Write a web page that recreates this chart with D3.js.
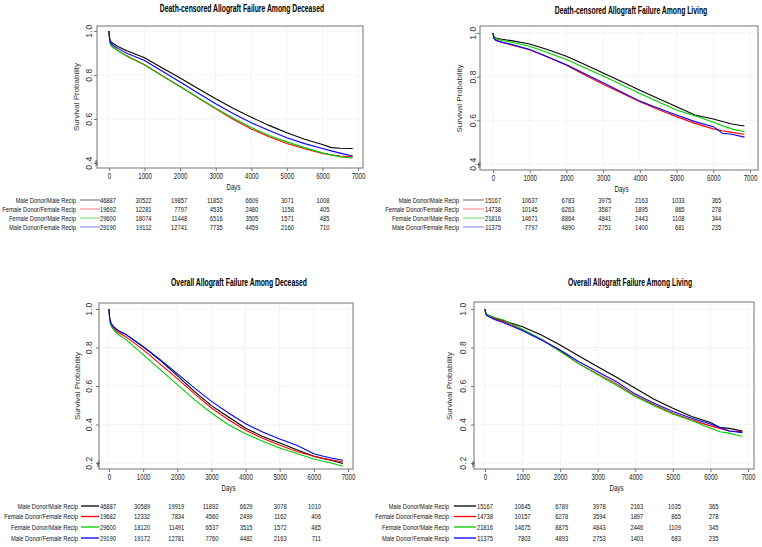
<!DOCTYPE html>
<html><head><meta charset="utf-8">
<script src="https://cdn.jsdelivr.net/npm/d3@7"></script>
<style>
body{margin:0;background:#fff;}
svg text{font-family:"Liberation Sans",Arial,sans-serif;}
</style></head><body>
<svg id="c" width="762" height="547"></svg>
<script>
// ---------- DATA ----------
const groups = ["Male Donor/Male Recip","Female Donor/Female Recip","Female Donor/Male Recip","Male Donor/Female Recip"];
const days = [0,20,60,120,250,500,1000,1500,2000,2500,3000,3500,4000,4500,5000,5500,6000,6250,6500,6850];
const xTicks = [0,1000,2000,3000,4000,5000,6000,7000];
const riskTimes = [0,1000,2000,3000,4000,5000,6000];
const titles = ["Death-censored Allograft Failure Among Deceased","Death-censored Allograft Failure Among Living","Overall Allograft Failure Among Deceased","Overall Allograft Failure Among Living"];

// Death-censored, deceased donors
const dcDecMM = [1.0,0.965,0.950,0.943,0.930,0.910,0.878,0.832,0.786,0.739,0.692,0.648,0.608,0.571,0.537,0.508,0.484,0.470,0.467,0.466];
const dcDecFF = [1.0,0.952,0.935,0.927,0.912,0.887,0.847,0.797,0.748,0.697,0.646,0.598,0.555,0.519,0.489,0.465,0.443,0.437,0.432,0.428];
const dcDecFM = [1.0,0.950,0.933,0.925,0.910,0.885,0.845,0.796,0.747,0.698,0.649,0.603,0.561,0.525,0.496,0.470,0.446,0.437,0.428,0.423];
const dcDecMF = [1.0,0.958,0.942,0.934,0.921,0.899,0.866,0.817,0.768,0.718,0.669,0.624,0.583,0.548,0.515,0.488,0.466,0.455,0.445,0.432];
// Death-censored, living donors
const dcLivMM = [1.0,0.985,0.978,0.975,0.971,0.965,0.950,0.923,0.894,0.856,0.817,0.778,0.738,0.700,0.662,0.624,0.606,0.595,0.583,0.574];
const dcLivFF = [1.0,0.978,0.970,0.965,0.958,0.945,0.923,0.889,0.852,0.808,0.765,0.725,0.685,0.650,0.617,0.586,0.561,0.552,0.545,0.536];
const dcLivFM = [1.0,0.982,0.975,0.971,0.966,0.958,0.939,0.910,0.879,0.841,0.803,0.763,0.723,0.685,0.647,0.621,0.591,0.575,0.561,0.548];
const dcLivMF = [1.0,0.977,0.968,0.963,0.957,0.948,0.924,0.890,0.855,0.813,0.772,0.730,0.688,0.655,0.624,0.594,0.571,0.541,0.536,0.523];
// Overall, deceased donors
const ovDecMM = [1.0,0.950,0.925,0.910,0.890,0.867,0.803,0.733,0.654,0.572,0.498,0.439,0.381,0.338,0.304,0.269,0.235,0.224,0.214,0.197];
const ovDecFF = [1.0,0.945,0.918,0.902,0.880,0.855,0.789,0.714,0.638,0.560,0.486,0.425,0.370,0.328,0.292,0.260,0.235,0.225,0.217,0.205];
const ovDecFM = [1.0,0.940,0.912,0.895,0.870,0.841,0.763,0.685,0.607,0.529,0.460,0.399,0.352,0.313,0.278,0.249,0.221,0.210,0.200,0.183];
const ovDecMF = [1.0,0.950,0.925,0.910,0.890,0.867,0.806,0.737,0.664,0.590,0.520,0.460,0.404,0.361,0.325,0.292,0.248,0.236,0.226,0.214];
// Overall, living donors
const ovLivMM = [1.0,0.978,0.970,0.965,0.955,0.939,0.908,0.865,0.813,0.756,0.700,0.645,0.588,0.531,0.484,0.441,0.410,0.384,0.380,0.366];
const ovLivFF = [1.0,0.976,0.967,0.961,0.950,0.934,0.891,0.843,0.784,0.715,0.663,0.611,0.549,0.502,0.459,0.424,0.393,0.380,0.366,0.363];
const ovLivFM = [1.0,0.978,0.970,0.965,0.956,0.943,0.895,0.843,0.779,0.715,0.658,0.604,0.545,0.497,0.455,0.421,0.381,0.362,0.355,0.338];
const ovLivMF = [1.0,0.975,0.965,0.958,0.946,0.929,0.887,0.839,0.787,0.726,0.674,0.622,0.558,0.510,0.467,0.432,0.403,0.385,0.366,0.358];

// Numbers at risk
const riskDcDecMM = [46887,30522,19857,11852,6609,3071,1008];
const riskDcDecFF = [19692,12281,7797,4535,2480,1158,405];
const riskDcDecFM = [29600,18074,11448,6516,3505,1571,485];
const riskDcDecMF = [29190,19112,12741,7735,4459,2160,710];
const riskDcLivMM = [15167,10637,6783,3975,2163,1033,365];
const riskDcLivFF = [14738,10145,6263,3587,1895,865,278];
const riskDcLivFM = [21816,14671,8864,4841,2443,1108,344];
const riskDcLivMF = [11375,7797,4890,2751,1400,681,235];
const riskOvDecMM = [46887,30589,19919,11892,6629,3078,1010];
const riskOvDecFF = [19682,12332,7834,4560,2499,1162,406];
const riskOvDecFM = [29600,18120,11491,6537,3515,1572,485];
const riskOvDecMF = [29190,19172,12781,7760,4482,2163,711];
const riskOvLivMM = [15167,10645,6789,3978,2163,1035,365];
const riskOvLivFF = [14738,10157,6278,3594,1897,865,278];
const riskOvLivFM = [21816,14675,8875,4843,2446,1109,345];
const riskOvLivMF = [11375,7803,4893,2753,1403,683,235];

// ---------- LAYOUT ----------
const curveColors = ["#000000","#ff0000","#00cc00","#0000ff"];
const legendColorsTop = ["#8c8c8c","#ff9a9a","#90e090","#9a9aff"];
const legendColorsBot = ["#000000","#ff0000","#00cc00","#0000ff"];

const panels = [
 {title:titles[0], series:[dcDecMM,dcDecFF,dcDecFM,dcDecMF], risk:[riskDcDecMM,riskDcDecFF,riskDcDecFM,riskDcDecMF],
  box:[97,26,363,168], xr:[109,358], yd:[0.4,1.0], yr:[163,31], yTicks:[0.4,0.6,0.8,1.0], titleX:242, titleY:12,
  ytl:89, ylab:76, rows:[200,209,218,227], labEnd:76, line:[80,100], numOff:7, leg:legendColorsTop},
 {title:titles[1], series:[dcLivMM,dcLivFF,dcLivFM,dcLivMF], risk:[riskDcLivMM,riskDcLivFF,riskDcLivFM,riskDcLivMF],
  box:[480,26,758,170], xr:[493,750], yd:[0.4,1.0], yr:[164,33], yTicks:[0.4,0.6,0.8,1.0], titleX:631, titleY:14,
  ytl:473, ylab:459, rows:[200,209,218,227], labEnd:459, line:[463,484], numOff:8, leg:legendColorsTop},
 {title:titles[2], series:[ovDecMM,ovDecFF,ovDecFM,ovDecMF], risk:[riskOvDecMM,riskOvDecFF,riskOvDecFM,riskOvDecMF],
  box:[99,303,353,469], xr:[109,348], yd:[0.2,1.0], yr:[463,309], yTicks:[0.2,0.4,0.6,0.8,1.0], titleX:239, titleY:286,
  ytl:89, ylab:77, rows:[506,516.5,527,538], labEnd:78, line:[81,99], numOff:7, leg:legendColorsBot},
 {title:titles[3], series:[ovLivMM,ovLivFF,ovLivFM,ovLivMF], risk:[riskOvLivMM,riskOvLivFF,riskOvLivFM,riskOvLivMF],
  box:[474,302,754,469], xr:[485,748], yd:[0.2,1.0], yr:[463,309], yTicks:[0.2,0.4,0.6,0.8,1.0], titleX:630, titleY:286,
  ytl:463, ylab:449, rows:[506,516.5,527,538], labEnd:449, line:[454,476], numOff:8, leg:legendColorsBot}
];

// narrow the glyphs horizontally (no condensed font installed): scale about the anchor point
function condense(sel, f){
  sel.each(function(){
    const t = d3.select(this);
    const x = +t.attr("x") || 0, y = +t.attr("y") || 0;
    t.attr("x",0).attr("y",0).attr("transform",`translate(${x},${y}) scale(${f},1)`);
  });
}

const svg = d3.select("#c");

panels.forEach(p=>{
  const g = svg.append("g");
  const x = d3.scaleLinear().domain([0,7000]).range(p.xr);
  const y = d3.scaleLinear().domain(p.yd).range(p.yr);
  const [bx0,by0,bx1,by1] = p.box;

  // grid
  g.selectAll(".gx").data(xTicks).join("line")
    .attr("x1",d=>x(d)).attr("x2",d=>x(d)).attr("y1",by0).attr("y2",by1)
    .attr("stroke","#e4e4e4").attr("stroke-width",0.8).attr("stroke-dasharray","1,1");
  g.selectAll(".gy").data(p.yTicks).join("line")
    .attr("x1",bx0).attr("x2",bx1).attr("y1",d=>y(d)).attr("y2",d=>y(d))
    .attr("stroke","#e4e4e4").attr("stroke-width",0.8).attr("stroke-dasharray","1,1");

  // box
  g.append("rect").attr("x",bx0).attr("y",by0).attr("width",bx1-bx0).attr("height",by1-by0)
    .attr("fill","none").attr("stroke","#8a8a8a").attr("stroke-width",1.2);

  // x axis
  const xa = d3.axisBottom(x).tickValues(xTicks).tickSize(3).tickPadding(2).tickFormat(d3.format("d"));
  const xg = g.append("g").attr("transform",`translate(0,${by1})`).call(xa);
  xg.select(".domain").remove();
  xg.selectAll("line").attr("stroke","#777");
  xg.selectAll("text").attr("font-size",8.5).attr("fill","#222").attr("font-family",null);
  condense(xg.selectAll("text"),0.72);
  const dl = g.append("text").attr("x",(p.xr[0]+p.xr[1])/2).attr("y",by1+22).attr("text-anchor","middle")
    .attr("font-size",8.5).attr("fill","#222").text("Days");
  condense(dl,0.72);

  // y axis
  const ya = d3.axisLeft(y).tickValues(p.yTicks).tickSize(3).tickFormat(d3.format(".1f"));
  const yg = g.append("g").attr("transform",`translate(${bx0},0)`).call(ya);
  yg.select(".domain").remove();
  yg.selectAll("line").attr("stroke","#777");
  yg.selectAll("text").remove();
  g.selectAll(".ytl").data(p.yTicks).join("text")
    .attr("transform",d=>`translate(${p.ytl+3},${y(d)}) rotate(-90)`)
    .attr("text-anchor","middle").attr("font-size",8.5).attr("fill","#333")
    .attr("letter-spacing",0.6)
    .text(d=>d3.format(".1f")(d));
  g.append("text").attr("transform",`translate(${p.ylab+3},${(p.yr[0]+p.yr[1])/2}) rotate(-90)`)
    .attr("text-anchor","middle").attr("font-size",8).attr("fill","#333").text("Survival Probability");

  // axis break mark
  const yb = by1-4;
  g.append("path").attr("d",`M${bx0-2},${yb} l2.5,-1.5 l-2.5,-1 l2.5,-1.5 M${bx0-2},${yb+2} l2.5,-1.5 l-2.5,-1 l2.5,-1.5`)
    .attr("fill","none").attr("stroke","#555").attr("stroke-width",0.7);

  // curves
  const line = d3.line().x((d,i)=>x(days[i])).y(d=>y(d));
  p.series.forEach((s,k)=>{
    g.append("path").datum(s).attr("d",line).attr("fill","none")
      .attr("stroke",curveColors[k]).attr("stroke-width",1.1);
  });

  // title
  const tt = g.append("text").attr("x",p.titleX).attr("y",p.titleY).attr("text-anchor","middle")
    .attr("font-size",10.5).attr("font-weight","bold").attr("fill","#000").text(p.title);
  condense(tt,0.65);

  // risk table
  groups.forEach((name,k)=>{
    const ry = p.rows[k];
    const lt = g.append("text").attr("x",p.labEnd).attr("y",ry).attr("dy","0.35em").attr("text-anchor","end")
      .attr("font-size",7.8).attr("fill","#111").text(name);
    condense(lt,0.74);
    g.append("line").attr("x1",p.line[0]).attr("x2",p.line[1]).attr("y1",ry).attr("y2",ry)
      .attr("stroke",p.leg[k]).attr("stroke-width",1.3);
    const nt = g.selectAll(null).data(p.risk[k]).join("text")
      .attr("x",(d,i)=>x(riskTimes[i])+p.numOff).attr("y",ry).attr("dy","0.35em").attr("text-anchor","end")
      .attr("font-size",7.8).attr("fill","#111").text(d=>d);
    condense(nt,0.74);
  });
});
</script></body></html>
